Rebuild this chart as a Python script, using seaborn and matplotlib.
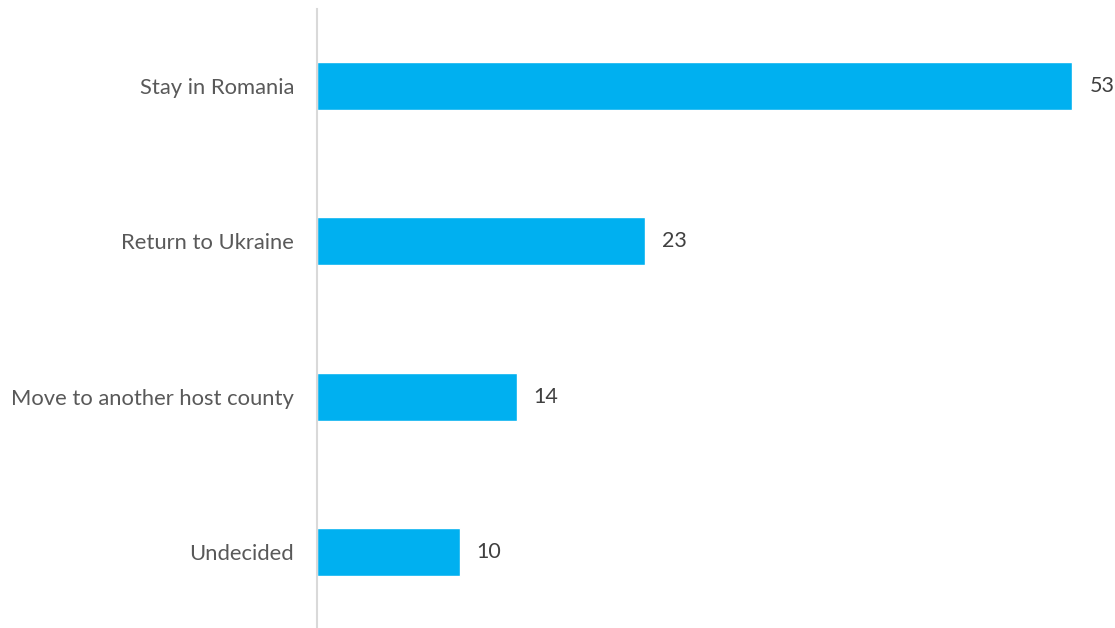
import matplotlib
matplotlib.use("Agg")
import matplotlib.pyplot as plt
import seaborn as sns
import pandas as pd

categories = ["Stay in Romania", "Return to Ukraine", "Move to another host county", "Undecided"]
values = [53, 23, 14, 10]

df = pd.DataFrame({"category": categories, "value": values})

sns.set_theme(style="white")
plt.rcParams['font.family'] = ['Lato', 'DejaVu Sans']

fig = plt.figure(figsize=(11.15, 6.28), dpi=100)
ax = fig.add_axes([317/1115, -1.5/628, 798/1115, 621/628])

sns.barplot(data=df, x="value", y="category", color="#00B0F0", width=0.31,
            saturation=1, ax=ax, orient="h")

ax.set_xlim(0, 56)
ax.set_ylim(3.5, -0.5)
ax.set_xlabel("")
ax.set_ylabel("")
ax.set_xticks([])
for s in ["top", "right", "bottom"]:
    ax.spines[s].set_visible(False)
ax.spines["left"].set_color("#D9D9D9")
ax.spines["left"].set_linewidth(1.5)
ax.tick_params(axis="y", length=0, pad=16.5, labelsize=15.8, labelcolor="#595959")

for i, v in enumerate(values):
    ax.text(v + 1.2, i, f"{v}", va="center", ha="left", fontsize=15.5, color="#404040")

fig.savefig("out.png", dpi=100)
